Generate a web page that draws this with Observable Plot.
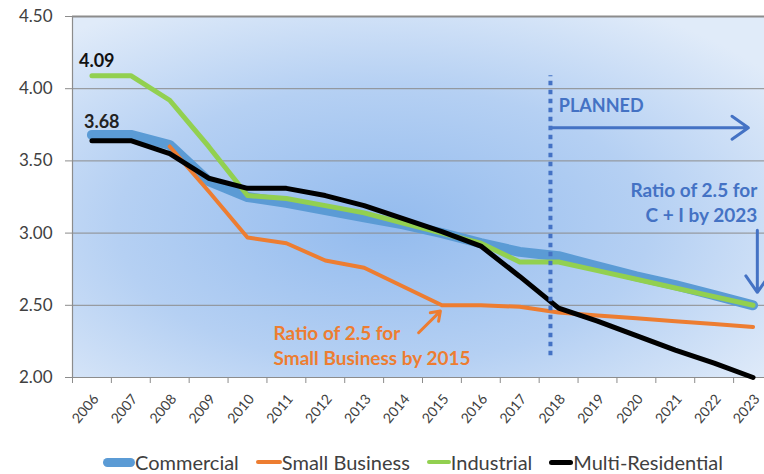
<!DOCTYPE html>
<html><head><meta charset="utf-8">
<script src="https://cdn.jsdelivr.net/npm/d3@7"></script>
<script src="https://cdn.jsdelivr.net/npm/@observablehq/plot@0.6"></script>
<style>
body{margin:0;background:#fff;font-family:Lato,"Open Sans",sans-serif;}
#chart{width:764px;height:474px;position:relative;overflow:hidden;background:#fff}
.legend{position:absolute;left:103px;top:450px;display:flex;align-items:center;font-size:20px;color:#404040;line-height:24px}
.item{display:flex;align-items:center;margin-right:17px}
.sw{display:inline-block;border-radius:5px;}
</style></head><body><div id="chart"></div>
<script>
const years = [2006,2007,2008,2009,2010,2011,2012,2013,2014,2015,2016,2017,2018,2019,2020,2021,2022,2023];
const commercial    = [3.68,3.68,3.61,3.36,3.25,3.21,3.16,3.11,3.06,3.00,2.93,2.87,2.84,2.77,2.70,2.64,2.57,2.50];
const smallBusiness = [null,null,3.60,3.29,2.97,2.93,2.81,2.76,2.63,2.50,2.50,2.49,2.45,2.43,2.41,2.39,2.37,2.35];
const industrial    = [4.09,4.09,3.92,3.60,3.26,3.24,3.19,3.14,3.07,3.00,2.93,2.80,2.80,2.74,2.68,2.62,2.56,2.50];
const multiRes      = [3.64,3.64,3.55,3.38,3.31,3.31,3.26,3.19,3.10,3.01,2.91,2.70,2.48,2.39,2.29,2.19,2.10,2.00];
const yTicks = [2.00,2.50,3.00,3.50,4.00,4.50];
const seriesNames = ["Commercial","Small Business","Industrial","Multi-Residential"];
const seriesColors = ["#5b9bd5","#ed7d31","#92d050","#000000"];

const rows = arr => years.map((year,i) => ({year, value: arr[i]}));
const xBoundaries = years.map(y => y - 0.5).concat([years[years.length-1] + 0.5]);

const pointLabels = [
  {x: 2006, y: 4.09, text: "4.09"},
  {x: 2006, y: 3.68, text: "3.68"}
];
const plannedLabel = [{x: 2017.8, y: 3.88, text: "PLANNED"}];
const ciLabel = [{x: 2023.11, y: 3.22, text: "Ratio of 2.5 for\nC + I by 2023"}];
const sbLabel = [{x: 2010.67, y: 2.23, text: "Ratio of 2.5 for\nSmall Business by 2015"}];
const plannedLine = [{x: 2017.79, y1: 2.15, y2: 4.09}];
const plannedArrow = [{x1: 2017.79, y1: 3.73, x2: 2022.88, y2: 3.73}];
const ciArrow = [{x1: 2023.11, y1: 3.02, x2: 2023.11, y2: 2.59}];
const sbArrow = [{x1: 2014.4, y1: 2.31, x2: 2014.96, y2: 2.46}];

function background(index, scales, values, dims) {
  const g = d3.create("svg:g");
  const grad = g.append("defs").append("radialGradient")
    .attr("id","bgGrad").attr("cx","45%").attr("cy","58%").attr("r","70%");
  grad.append("stop").attr("offset","0%").attr("stop-color","#93bbee");
  grad.append("stop").attr("offset","55%").attr("stop-color","#b5d0f3");
  grad.append("stop").attr("offset","100%").attr("stop-color","#e0ebf9");
  g.append("rect")
    .attr("x", dims.marginLeft).attr("y", dims.marginTop)
    .attr("width", dims.width - dims.marginLeft - dims.marginRight)
    .attr("height", dims.height - dims.marginTop - dims.marginBottom)
    .attr("fill","url(#bgGrad)");
  return g.node();
}

const gray = "#8c8c8c";
const blue = "#4472c4";
const orange = "#ed7d31";

const plot = Plot.plot({
  width: 764,
  height: 440,
  marginLeft: 72,
  marginRight: 0,
  marginTop: 16,
  marginBottom: 63,
  style: {fontFamily: "Lato, 'Open Sans', sans-serif", fontSize: "18px", color: "#404040", background: "transparent"},
  x: {type: "linear", domain: [2005.5, 2023.5], range: [72, 772], axis: null},
  y: {domain: [2, 4.5], axis: null},
  marks: [
    background,
    Plot.ruleY([2.5,3,3.5,4], {stroke: gray, strokeWidth: 1}),
    Plot.ruleY([4.5], {stroke: gray, strokeWidth: 2}),
    Plot.ruleY([2], {stroke: gray, strokeWidth: 1.2}),
    Plot.ruleX([2005.5], {stroke: gray, strokeWidth: 1.2}),
    Plot.axisY({ticks: yTicks, tickFormat: d3.format(".2f"), tickSize: 7, tickPadding: 13, stroke: gray, fill: "#404040", fontSize: 17}),
    Plot.axisX({ticks: xBoundaries, tickSize: 6, tickFormat: () => "", stroke: gray}),
    Plot.axisX({ticks: years, tickSize: 0, tickPadding: 19, tickRotate: -50, tickFormat: d => String(d), fill: "#404040", fontSize: 14, dx: 4}),
    Plot.line(rows(commercial), {x: "year", y: "value", stroke: seriesColors[0], strokeWidth: 10, strokeLinecap: "round", strokeLinejoin: "round"}),
    Plot.line(rows(smallBusiness), {x: "year", y: "value", stroke: seriesColors[1], strokeWidth: 4, strokeLinejoin: "round"}),
    Plot.line(rows(industrial), {x: "year", y: "value", stroke: seriesColors[2], strokeWidth: 5, strokeLinecap: "round", strokeLinejoin: "round"}),
    Plot.line(rows(multiRes), {x: "year", y: "value", stroke: seriesColors[3], strokeWidth: 5, strokeLinejoin: "round"}),
    Plot.ruleX(plannedLine, {x: "x", y1: "y1", y2: "y2", stroke: blue, strokeWidth: 4, strokeDasharray: "4.5,4.5"}),
    Plot.arrow(plannedArrow, {x1: "x1", y1: "y1", x2: "x2", y2: "y2", stroke: blue, strokeWidth: 3, headLength: 10, headAngle: 70}),
    Plot.arrow(ciArrow, {x1: "x1", y1: "y1", x2: "x2", y2: "y2", stroke: blue, strokeWidth: 3, headLength: 10, headAngle: 70}),
    Plot.arrow(sbArrow, {x1: "x1", y1: "y1", x2: "x2", y2: "y2", stroke: orange, strokeWidth: 3, headLength: 8, headAngle: 70}),
    Plot.text(pointLabels.slice(0,1), {x: "x", y: "y", text: "text", dx: -13, dy: -14, textAnchor: "start", fontWeight: "bold", fontSize: 18, fill: "#111"}),
    Plot.text(pointLabels.slice(1), {x: "x", y: "y", text: "text", dx: -8, dy: -13, textAnchor: "start", fontWeight: "bold", fontSize: 18, fill: "#222"}),
    Plot.text(plannedLabel, {x: "x", y: "y", text: "text", dx: 8, textAnchor: "start", fontWeight: "bold", fontSize: 18, fill: blue}),
    Plot.text(ciLabel, {x: "x", y: "y", text: "text", textAnchor: "end", fontWeight: "bold", fontSize: 19, lineHeight: 1.32, fill: blue}),
    Plot.text(sbLabel, {x: "x", y: "y", text: "text", textAnchor: "start", fontWeight: "bold", fontSize: 19, lineHeight: 1.32, fill: orange})
  ]
});

const chart = document.getElementById("chart");
chart.appendChild(plot);

const legend = document.createElement("div");
legend.className = "legend";
const swatchSizes = [[32,9],[26,4],[24,4],[24,5]];
seriesNames.forEach((name, i) => {
  const item = document.createElement("span");
  item.className = "item";
  const sw = document.createElement("span");
  sw.className = "sw";
  sw.style.width = swatchSizes[i][0] + "px";
  sw.style.height = swatchSizes[i][1] + "px";
  sw.style.background = seriesColors[i];
  const label = document.createElement("span");
  label.textContent = name;
  item.appendChild(sw);
  item.appendChild(label);
  legend.appendChild(item);
});
chart.appendChild(legend);
</script></body></html>
